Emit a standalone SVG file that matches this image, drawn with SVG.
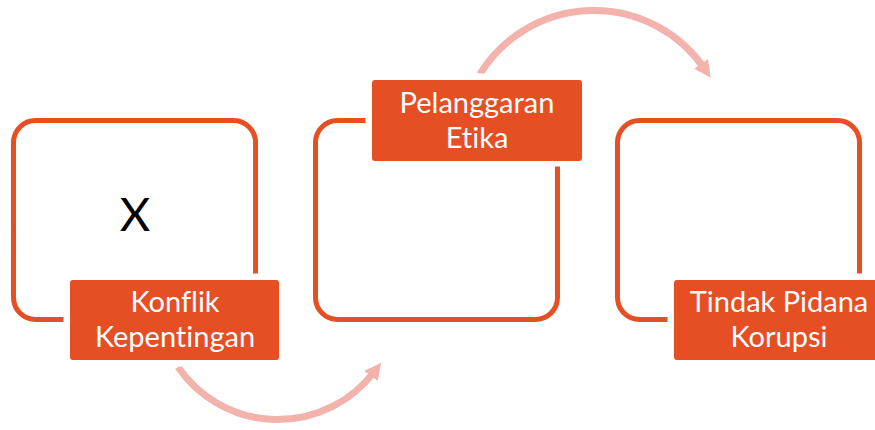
<svg xmlns="http://www.w3.org/2000/svg" width="875" height="430" viewBox="0 0 875 430">
<style>
.box{fill:#fff;stroke:#E64E24;stroke-width:5}
.gap{fill:#fff}
.lab{fill:#E64E24}
.t{font-family:Lato,"Open Sans",sans-serif;font-size:29px;fill:#fff;text-anchor:middle;font-variant-ligatures:none}
.x{font-family:Lato,"Open Sans",sans-serif;font-size:47px;fill:#000;text-anchor:middle}
.arr{fill:none;stroke:#F3B2AB;stroke-width:7}
</style>
<defs>
<marker id="ah" viewBox="0 0 10 10" refX="3" refY="5" markerWidth="2.4" markerHeight="2.4" orient="auto">
<path d="M0,0 L10,5 L0,10 z" fill="#F3B2AB"/>
</marker>
</defs>
<rect width="875" height="430" fill="#fff"/>
<g id="connectors">
<path class="arr" d="M178 367 A121 121 0 0 0 374 372" marker-end="url(#ah)"/>
<path class="arr" d="M480 74 A134 134 0 0 1 704 68" marker-end="url(#ah)"/>
</g>
<g id="node1">
<rect class="box" x="13.5" y="120.5" width="242" height="199" rx="22"/>
<text class="x" x="135" y="231">X</text>
<rect class="gap" x="63.5" y="273.5" width="222" height="93"/>
<rect class="lab" x="70" y="280" width="209" height="80" rx="3"/>
<text class="t" x="175" y="312">Konflik</text>
<text class="t" x="175" y="347">Kepentingan</text>
</g>
<g id="node2">
<rect class="box" x="315.5" y="120.5" width="242" height="199" rx="22"/>
<rect class="gap" x="365.5" y="73.5" width="223" height="93"/>
<rect class="lab" x="372" y="80" width="210" height="81" rx="3"/>
<text class="t" x="477" y="112.5">Pelanggaran</text>
<text class="t" x="477" y="147.5">Etika</text>
</g>
<g id="node3">
<rect class="box" x="617.5" y="120.5" width="242" height="199" rx="22"/>
<rect class="gap" x="667.5" y="273.5" width="223" height="93"/>
<rect class="lab" x="674" y="280" width="210" height="80" rx="3"/>
<text class="t" x="779" y="312">Tindak Pidana</text>
<text class="t" x="779" y="347">Korupsi</text>
</g>
</svg>
